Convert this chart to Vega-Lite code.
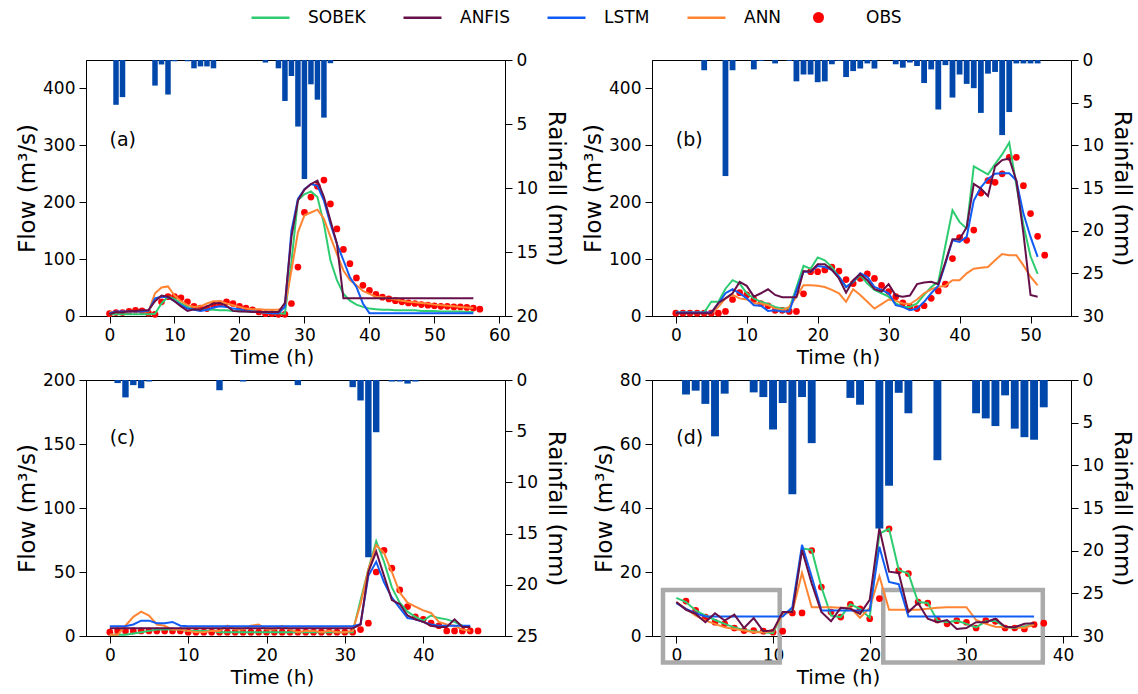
{
"$schema": "https://vega.github.io/schema/vega-lite/v6.json",
"padding": {"left": 16, "top": 9, "right": 2, "bottom": 2},
"datasets": {
"a": [
{"h":0,"S":3,"F":3,"L":5,"N":7,"O":4},
{"h":1,"S":3,"F":7,"L":8,"N":7,"O":6,"R":3.5},
{"h":2,"S":3,"F":6,"L":8,"N":7,"O":6,"R":2.9},
{"h":3,"S":3,"F":9,"L":8,"N":8,"O":8},
{"h":4,"S":3,"F":9,"L":8,"N":8,"O":10},
{"h":5,"S":3,"F":10,"L":8,"N":8,"O":9},
{"h":6,"S":3,"F":10,"L":9,"N":8,"O":5},
{"h":7,"S":4,"F":26,"L":31,"N":40,"O":3,"R":2.0},
{"h":8,"S":22,"F":36,"L":34,"N":50,"O":25,"R":0.35},
{"h":9,"S":34,"F":34,"L":33,"N":52,"O":34,"R":2.7},
{"h":10,"S":30,"F":26,"L":26,"N":36,"O":34,"R":0.1},
{"h":11,"S":22,"F":17,"L":19,"N":26,"O":32},
{"h":12,"S":16,"F":9,"L":13,"N":19,"O":25,"R":0.1},
{"h":13,"S":11,"F":12,"L":11,"N":16,"O":17,"R":0.65},
{"h":14,"S":11,"F":11,"L":9,"N":17,"O":14,"R":0.5},
{"h":15,"S":11,"F":17,"L":11,"N":22,"O":13,"R":0.5},
{"h":16,"S":11,"F":22,"L":15,"N":26,"O":19,"R":0.65},
{"h":17,"S":10,"F":23,"L":17,"N":26,"O":22},
{"h":18,"S":10,"F":18,"L":16,"N":22,"O":25},
{"h":19,"S":9,"F":9,"L":13,"N":19,"O":22},
{"h":20,"S":9,"F":8,"L":12,"N":16,"O":17},
{"h":21,"S":8,"F":8,"L":9,"N":13,"O":14},
{"h":22,"S":8,"F":7,"L":8,"N":12,"O":11},
{"h":23,"S":7,"F":7,"L":7,"N":12,"O":7},
{"h":24,"S":6,"F":7,"L":6,"N":11,"O":4,"R":0.2},
{"h":25,"S":5,"F":7,"L":5,"N":11,"O":4},
{"h":26,"S":5,"F":7,"L":5,"N":11,"O":3,"R":0.65},
{"h":27,"S":4,"F":23,"L":16,"N":16,"O":3,"R":3.2},
{"h":28,"S":95,"F":139,"L":150,"N":80,"O":22,"R":1.25},
{"h":29,"S":204,"F":203,"L":206,"N":147,"O":86,"R":5.2},
{"h":30,"S":214,"F":222,"L":223,"N":177,"O":182,"R":9.3},
{"h":31,"S":219,"F":232,"L":232,"N":182,"O":209,"R":1.9},
{"h":32,"S":209,"F":238,"L":229,"N":187,"O":228,"R":3.1},
{"h":33,"S":162,"F":209,"L":203,"N":171,"O":239,"R":4.5},
{"h":34,"S":98,"F":168,"L":162,"N":139,"O":197,"R":0.25},
{"h":35,"S":63,"F":127,"L":127,"N":109,"O":153},
{"h":36,"S":39,"F":31,"L":98,"N":80,"O":117},
{"h":37,"S":27,"F":31,"L":68,"N":63,"O":92},
{"h":38,"S":20,"F":31,"L":51,"N":54,"O":67},
{"h":39,"S":16,"F":31,"L":22,"N":44,"O":54},
{"h":40,"S":13,"F":31,"L":5,"N":39,"O":45},
{"h":41,"S":12,"F":31,"L":5,"N":34,"O":38},
{"h":42,"S":11,"F":31,"L":5,"N":33,"O":33},
{"h":43,"S":11,"F":31,"L":5,"N":31,"O":30},
{"h":44,"S":10,"F":31,"L":5,"N":29,"O":27},
{"h":45,"S":10,"F":31,"L":5,"N":27,"O":25},
{"h":46,"S":10,"F":31,"L":5,"N":25,"O":23},
{"h":47,"S":10,"F":31,"L":5,"N":24,"O":22},
{"h":48,"S":9,"F":31,"L":5,"N":23,"O":20},
{"h":49,"S":9,"F":31,"L":5,"N":22,"O":19},
{"h":50,"S":9,"F":31,"L":5,"N":20,"O":18},
{"h":51,"S":8,"F":31,"L":5,"N":19,"O":17},
{"h":52,"S":8,"F":31,"L":5,"N":18,"O":17},
{"h":53,"S":8,"F":31,"L":5,"N":17,"O":16},
{"h":54,"S":8,"F":31,"L":5,"N":16,"O":16},
{"h":55,"S":7,"F":31,"L":5,"N":15,"O":15},
{"h":56,"S":7,"F":31,"L":5,"N":14,"O":14},
{"h":57,"O":12}
],
"b": [
{"h":0,"S":6,"F":5,"L":6,"N":5,"O":5},
{"h":1,"S":6,"F":5,"L":6,"N":5,"O":5},
{"h":2,"S":6,"F":5,"L":6,"N":5,"O":5},
{"h":3,"S":6,"F":5,"L":6,"N":5,"O":5},
{"h":4,"S":6,"F":5,"L":6,"N":5,"O":5,"R":1.2},
{"h":5,"S":25,"F":5,"L":6,"N":5,"O":5},
{"h":6,"S":25,"F":23,"L":22,"N":16,"O":5},
{"h":7,"S":48,"F":31,"L":40,"N":31,"O":8,"R":13.6},
{"h":8,"S":63,"F":40,"L":47,"N":37,"O":29,"R":1.2},
{"h":9,"S":57,"F":60,"L":40,"N":31,"O":41},
{"h":10,"S":40,"F":53,"L":31,"N":29,"O":37},
{"h":11,"S":31,"F":34,"L":19,"N":22,"O":29,"R":1.1},
{"h":12,"S":25,"F":40,"L":18,"N":22,"O":22,"R":0.1},
{"h":13,"S":21,"F":47,"L":9,"N":19,"O":18},
{"h":14,"S":16,"F":37,"L":10,"N":13,"O":10,"R":0.4},
{"h":15,"S":13,"F":33,"L":8,"N":10,"O":10},
{"h":16,"S":13,"F":33,"L":8,"N":16,"O":8,"R":0.1},
{"h":17,"S":50,"F":33,"L":45,"N":34,"O":8,"R":2.5},
{"h":18,"S":88,"F":79,"L":78,"N":54,"O":39,"R":1.7},
{"h":19,"S":83,"F":78,"L":78,"N":54,"O":78,"R":1.7},
{"h":20,"S":103,"F":91,"L":88,"N":53,"O":78,"R":2.6},
{"h":21,"S":98,"F":91,"L":86,"N":51,"O":81,"R":2.5},
{"h":22,"S":86,"F":81,"L":81,"N":46,"O":86,"R":0.5},
{"h":23,"S":69,"F":66,"L":69,"N":40,"O":79,"R":0.1},
{"h":24,"S":51,"F":41,"L":51,"N":25,"O":64,"R":2.0},
{"h":25,"S":60,"F":63,"L":60,"N":47,"O":57,"R":1.3},
{"h":26,"S":72,"F":74,"L":75,"N":37,"O":66,"R":1.0},
{"h":27,"S":57,"F":63,"L":69,"N":25,"O":74,"R":0.4},
{"h":28,"S":46,"F":47,"L":51,"N":13,"O":66,"R":1.0},
{"h":29,"S":40,"F":43,"L":46,"N":21,"O":54},
{"h":30,"S":34,"F":56,"L":40,"N":29,"O":43},
{"h":31,"S":22,"F":36,"L":19,"N":27,"O":34,"R":0.5},
{"h":32,"S":16,"F":34,"L":16,"N":22,"O":23,"R":0.9},
{"h":33,"S":16,"F":36,"L":10,"N":21,"O":16,"R":0.3},
{"h":34,"S":22,"F":56,"L":13,"N":29,"O":13,"R":0.7},
{"h":35,"S":37,"F":59,"L":25,"N":40,"O":18,"R":2.7},
{"h":36,"S":51,"F":60,"L":40,"N":47,"O":31,"R":1.1},
{"h":37,"S":60,"F":56,"L":53,"N":51,"O":44,"R":5.8},
{"h":38,"S":124,"F":95,"L":92,"N":53,"O":56,"R":0.6},
{"h":39,"S":186,"F":135,"L":133,"N":63,"O":101,"R":4.4},
{"h":40,"S":165,"F":135,"L":130,"N":63,"O":138,"R":1.7},
{"h":41,"S":154,"F":156,"L":139,"N":75,"O":133,"R":2.8},
{"h":42,"S":263,"F":232,"L":203,"N":83,"O":151,"R":3.3},
{"h":43,"S":256,"F":224,"L":226,"N":85,"O":216,"R":6.2},
{"h":44,"S":249,"F":211,"L":241,"N":86,"O":238,"R":1.6},
{"h":45,"S":267,"F":263,"L":250,"N":98,"O":235,"R":1.4},
{"h":46,"S":284,"F":274,"L":251,"N":109,"O":250,"R":8.8},
{"h":47,"S":305,"F":277,"L":251,"N":107,"O":279,"R":6.1},
{"h":48,"S":230,"F":238,"L":238,"N":107,"O":279,"R":0.4},
{"h":49,"S":160,"F":145,"L":180,"N":89,"O":229,"R":0.4},
{"h":50,"S":105,"F":37,"L":139,"N":69,"O":180,"R":0.4},
{"h":51,"S":74,"F":34,"L":104,"N":54,"O":140,"R":0.4},
{"h":52,"O":107}
],
"c": [
{"h":0,"S":1,"F":6,"L":7.6,"N":1,"O":3},
{"h":1,"S":1,"F":6,"L":7.6,"N":1,"O":4,"R":0.3},
{"h":2,"S":1,"F":6,"L":7.6,"N":8,"O":4,"R":1.7},
{"h":3,"S":2,"F":6,"L":9,"N":15,"O":4,"R":0.5},
{"h":4,"S":3,"F":6,"L":12,"N":19,"O":4,"R":0.8},
{"h":5,"S":4,"F":6,"L":12,"N":16,"O":4,"R":0.15},
{"h":6,"S":5,"F":6,"L":10,"N":9,"O":4},
{"h":7,"S":5,"F":6,"L":10,"N":8,"O":4},
{"h":8,"S":5,"F":6,"L":11,"N":5,"O":4},
{"h":9,"S":5,"F":6,"L":8,"N":5,"O":4},
{"h":10,"S":4,"F":6,"L":7.6,"N":4,"O":3},
{"h":11,"S":4,"F":6,"L":7.6,"N":3,"O":3},
{"h":12,"S":4,"F":6,"L":7.6,"N":3,"O":3},
{"h":13,"S":4,"F":6,"L":7.6,"N":4,"O":3},
{"h":14,"S":3,"F":6,"L":7.6,"N":4,"O":3,"R":1.0},
{"h":15,"S":3,"F":6,"L":7.6,"N":8,"O":3},
{"h":16,"S":3,"F":6,"L":7.6,"N":5,"O":3},
{"h":17,"S":3,"F":6,"L":7.6,"N":5,"O":3,"R":0.15},
{"h":18,"S":3,"F":6,"L":7.6,"N":8,"O":3},
{"h":19,"S":3,"F":6,"L":7.6,"N":9,"O":3},
{"h":20,"S":3,"F":6,"L":7.6,"N":5,"O":3},
{"h":21,"S":3,"F":6,"L":7.6,"N":5,"O":3},
{"h":22,"S":3,"F":6,"L":7.6,"N":8,"O":3},
{"h":23,"S":3,"F":6,"L":7.6,"N":5,"O":3},
{"h":24,"S":3,"F":6,"L":7.6,"N":3,"O":3,"R":0.5},
{"h":25,"S":3,"F":6,"L":7.6,"N":4,"O":3},
{"h":26,"S":3,"F":6,"L":7.6,"N":4,"O":3},
{"h":27,"S":3,"F":6,"L":7.6,"N":3,"O":3},
{"h":28,"S":3,"F":6,"L":7.6,"N":4,"O":3},
{"h":29,"S":3,"F":6,"L":7.6,"N":3,"O":3},
{"h":30,"S":3,"F":6,"L":7.6,"N":3,"O":3},
{"h":31,"S":3,"F":6,"L":7.6,"N":4,"O":3,"R":0.7},
{"h":32,"S":28,"F":9,"L":9.2,"N":25,"O":5,"R":2.0},
{"h":33,"S":52,"F":50,"L":47,"N":52,"O":10,"R":17.3},
{"h":34,"S":74,"F":66,"L":58,"N":71,"O":50,"R":5.1},
{"h":35,"S":58,"F":47,"L":42,"N":65,"O":67},
{"h":36,"S":38,"F":28,"L":30,"N":50,"O":53,"R":0.15},
{"h":37,"S":26,"F":25,"L":22,"N":34,"O":36,"R":0.15},
{"h":38,"S":19,"F":16,"L":14,"N":26,"O":23,"R":0.35},
{"h":39,"S":15,"F":13,"L":13,"N":23,"O":15,"R":0.15},
{"h":40,"S":12,"F":11,"L":11,"N":20,"O":13},
{"h":41,"S":16,"F":8,"L":9,"N":18,"O":10},
{"h":42,"S":14,"F":7,"L":8,"N":11,"O":8},
{"h":43,"S":13,"F":7,"L":8,"N":9,"O":4},
{"h":44,"S":11,"F":13,"L":8,"N":8,"O":4},
{"h":45,"S":8,"F":7,"L":8,"N":5,"O":4},
{"h":46,"S":7,"F":7,"L":8,"N":4,"O":4},
{"h":47,"O":4}
],
"d": [
{"h":0,"S":11.9,"F":10.6,"L":10.3,"N":10.6},
{"h":1,"S":10.6,"F":8.2,"L":8.5,"N":8.5,"O":10.9,"R":1.7},
{"h":2,"S":8,"F":6.9,"L":7.1,"N":6.4,"O":8,"R":1.25},
{"h":3,"S":6.4,"F":4.3,"L":6.1,"N":4.8,"O":5.9,"R":2.8},
{"h":4,"S":5,"F":7.1,"L":6.1,"N":3.8,"O":4.3,"R":6.6},
{"h":5,"S":3.8,"F":4.8,"L":6.1,"N":2.7,"O":3.8,"R":1.6},
{"h":6,"S":2.7,"F":6.7,"L":6.1,"N":2.2,"O":2.5},
{"h":7,"S":1.9,"F":2.5,"L":6.1,"N":1.7,"O":1.7},
{"h":8,"S":1.5,"F":5.6,"L":6.1,"N":1.2,"O":1.7,"R":1.45},
{"h":9,"S":1.2,"F":1.5,"L":6.1,"N":1.2,"O":1.5,"R":2.0},
{"h":10,"S":0.9,"F":1.7,"L":6.1,"N":1.5,"O":1.2,"R":5.8},
{"h":11,"S":7.2,"F":7.5,"L":6.1,"N":6.9,"O":1.5,"R":2.7},
{"h":12,"S":8,"F":7.5,"L":9,"N":7.5,"O":7.2,"R":13.4},
{"h":13,"S":27.4,"F":26.9,"L":28.5,"N":19.7,"O":7.2,"R":2.0},
{"h":14,"S":26.9,"F":16.4,"L":18.5,"N":9,"O":26.7,"R":7.4},
{"h":15,"S":15.3,"F":7.5,"L":8,"N":9,"O":15.3},
{"h":16,"S":6.4,"F":4.6,"L":8,"N":9,"O":7.5},
{"h":17,"S":5.9,"F":8.8,"L":8,"N":8.8,"O":5.9},
{"h":18,"S":9.9,"F":8.5,"L":8,"N":8.8,"O":9.9,"R":2.1},
{"h":19,"S":8.5,"F":6.9,"L":8,"N":5.7,"O":8.5,"R":2.9},
{"h":20,"S":5.7,"F":11.3,"L":8,"N":8.8,"O":5.4},
{"h":21,"S":32,"F":33.7,"L":27.9,"N":18.7,"O":11.7,"R":17.4},
{"h":22,"S":33.5,"F":20.1,"L":16.9,"N":8.2,"O":33.5,"R":12.4},
{"h":23,"S":20.6,"F":19.7,"L":16.2,"N":8.2,"O":20.4,"R":1.5},
{"h":24,"S":19.5,"F":7.5,"L":6.1,"N":8.2,"O":19.5,"R":3.9},
{"h":25,"S":10.6,"F":10.3,"L":6.1,"N":8.2,"O":10.6},
{"h":26,"S":10.3,"F":5.4,"L":6.1,"N":8.5,"O":10.3},
{"h":27,"S":4.8,"F":4.3,"L":6.1,"N":8.8,"O":5,"R":9.4},
{"h":28,"S":4.3,"F":5,"L":6.1,"N":9,"O":3.8},
{"h":29,"S":4.8,"F":2.2,"L":6.1,"N":9,"O":4.8},
{"h":30,"S":3.8,"F":2.5,"L":6.1,"N":9,"O":4.3},
{"h":31,"S":2.7,"F":4.3,"L":6.1,"N":5,"O":2.5,"R":3.9},
{"h":32,"S":4.6,"F":4.3,"L":6.1,"N":3.8,"O":4.8,"R":4.5},
{"h":33,"S":4.8,"F":5.4,"L":6.1,"N":2.9,"O":4.6,"R":5.4},
{"h":34,"S":2.7,"F":2.9,"L":6.1,"N":2.7,"O":2.5,"R":1.8},
{"h":35,"S":2.5,"F":2.7,"L":6.1,"N":2.7,"O":2.5,"R":5.7},
{"h":36,"S":2.9,"F":3.8,"L":6.1,"N":2.5,"O":2.2,"R":6.7},
{"h":37,"S":3.8,"F":4,"L":6.1,"N":3.6,"O":3.6,"R":7.0},
{"h":38,"O":4,"R":3.2}
]
},
"columns": 2,
"spacing": {"row": 64, "column": 147},
"bounds": "flush",
"concat": [
{
"width": 419, "height": 256,
"data": {"name": "a"},
"layer": [
{"layer": [
{"mark": {"type": "point", "filled": true, "size": 45, "opacity": 1},
 "encoding": {"x": {"field": "h", "type": "quantitative", "scale": {"domain": [-2.85, 60.1], "nice": false, "zero": false}, "axis": {"title": "Time (h)", "values": [0,10,20,30,40,50,60]}},
  "y": {"field": "O", "type": "quantitative", "scale": {"domain": [0, 450], "nice": false}, "axis": {"title": "Flow (m³/s)", "values": [0,100,200,300,400]}},
  "fill": {"datum": "OBS", "type": "nominal", "scale": {"domain": ["OBS"], "range": ["#ff0000"]},
   "legend": {"orient": "none", "legendX": 724, "legendY": -51, "direction": "horizontal", "title": null, "labelFontSize": 17, "labelFont": "DejaVu Sans", "labelColor": "#000", "symbolType": "circle", "symbolSize": 121, "symbolStrokeWidth": 0, "labelOffset": 39}}}},
{"mark": {"type": "line", "strokeWidth": 2},
 "encoding": {"x": {"field": "h", "type": "quantitative", "scale": {"domain": [-2.85, 60.1], "nice": false, "zero": false}},
  "y": {"field": "S", "type": "quantitative", "scale": {"domain": [0, 450], "nice": false}},
  "color": {"datum": "SOBEK", "type": "nominal", "scale": {"domain": ["SOBEK","ANFIS","LSTM","ANN"], "range": ["#2ecc71","#66104a","#105cf5","#ff8533"]},
   "legend": {"orient": "none", "legendX": 176, "legendY": -51, "direction": "horizontal", "title": null, "labelFontSize": 17, "labelFont": "DejaVu Sans", "labelColor": "#000", "symbolType": "M-3.8,0L3.8,0", "symbolSize": 100, "symbolStrokeWidth": 2.5, "labelOffset": 29, "columnPadding": 32}}}},
{"mark": {"type": "line", "strokeWidth": 2},
 "encoding": {"x": {"field": "h", "type": "quantitative", "scale": {"domain": [-2.85, 60.1], "nice": false, "zero": false}},
  "y": {"field": "N", "type": "quantitative", "scale": {"domain": [0, 450], "nice": false}},
  "color": {"datum": "ANN", "type": "nominal"}}},
{"mark": {"type": "line", "strokeWidth": 2},
 "encoding": {"x": {"field": "h", "type": "quantitative", "scale": {"domain": [-2.85, 60.1], "nice": false, "zero": false}},
  "y": {"field": "L", "type": "quantitative", "scale": {"domain": [0, 450], "nice": false}},
  "color": {"datum": "LSTM", "type": "nominal"}}},
{"mark": {"type": "line", "strokeWidth": 2},
 "encoding": {"x": {"field": "h", "type": "quantitative", "scale": {"domain": [-2.85, 60.1], "nice": false, "zero": false}},
  "y": {"field": "F", "type": "quantitative", "scale": {"domain": [0, 450], "nice": false}},
  "color": {"datum": "ANFIS", "type": "nominal"}}},
{"data": {"values": [{"h": 0, "f": 310, "t": "(a)"}]},
 "mark": {"type": "text", "align": "left", "baseline": "middle", "fontSize": 19, "font": "DejaVu Sans", "color": "#000"},
 "encoding": {"x": {"field": "h", "type": "quantitative", "scale": {"domain": [-2.85, 60.1], "nice": false, "zero": false}},
  "y": {"field": "f", "type": "quantitative", "scale": {"domain": [0, 450], "nice": false}},
  "text": {"field": "t"}}}
]},
{"mark": {"type": "bar", "size": 5.5, "color": "#0047ab"},
 "encoding": {"x": {"field": "h", "type": "quantitative", "scale": {"domain": [-2.85, 60.1], "nice": false, "zero": false}},
  "y": {"field": "R", "type": "quantitative", "stack": null, "scale": {"domain": [0, 20], "nice": false, "reverse": true}, "axis": {"orient": "right", "title": "Rainfall (mm)", "values": [0,5,10,15,20]}}}}
],
"resolve": {"scale": {"y": "independent"}}
},
{
"width": 419, "height": 256,
"data": {"name": "b"},
"layer": [
{"layer": [
{"mark": {"type": "point", "filled": true, "size": 45, "opacity": 1},
 "encoding": {"x": {"field": "h", "type": "quantitative", "scale": {"domain": [-2.65, 55], "nice": false, "zero": false}, "axis": {"title": "Time (h)", "values": [0,10,20,30,40,50]}},
  "y": {"field": "O", "type": "quantitative", "scale": {"domain": [0, 450], "nice": false}, "axis": {"title": "Flow (m³/s)", "values": [0,100,200,300,400]}},
  "fill": {"datum": "OBS", "type": "nominal"}}},
{"mark": {"type": "line", "strokeWidth": 2},
 "encoding": {"x": {"field": "h", "type": "quantitative", "scale": {"domain": [-2.65, 55], "nice": false, "zero": false}},
  "y": {"field": "S", "type": "quantitative", "scale": {"domain": [0, 450], "nice": false}},
  "color": {"datum": "SOBEK", "type": "nominal"}}},
{"mark": {"type": "line", "strokeWidth": 2},
 "encoding": {"x": {"field": "h", "type": "quantitative", "scale": {"domain": [-2.65, 55], "nice": false, "zero": false}},
  "y": {"field": "N", "type": "quantitative", "scale": {"domain": [0, 450], "nice": false}},
  "color": {"datum": "ANN", "type": "nominal"}}},
{"mark": {"type": "line", "strokeWidth": 2},
 "encoding": {"x": {"field": "h", "type": "quantitative", "scale": {"domain": [-2.65, 55], "nice": false, "zero": false}},
  "y": {"field": "L", "type": "quantitative", "scale": {"domain": [0, 450], "nice": false}},
  "color": {"datum": "LSTM", "type": "nominal"}}},
{"mark": {"type": "line", "strokeWidth": 2},
 "encoding": {"x": {"field": "h", "type": "quantitative", "scale": {"domain": [-2.65, 55], "nice": false, "zero": false}},
  "y": {"field": "F", "type": "quantitative", "scale": {"domain": [0, 450], "nice": false}},
  "color": {"datum": "ANFIS", "type": "nominal"}}},
{"data": {"values": [{"h": 0, "f": 310, "t": "(b)"}]},
 "mark": {"type": "text", "align": "left", "baseline": "middle", "fontSize": 19, "font": "DejaVu Sans", "color": "#000"},
 "encoding": {"x": {"field": "h", "type": "quantitative", "scale": {"domain": [-2.65, 55], "nice": false, "zero": false}},
  "y": {"field": "f", "type": "quantitative", "scale": {"domain": [0, 450], "nice": false}},
  "text": {"field": "t"}}}
]},
{"mark": {"type": "bar", "size": 5.8, "color": "#0047ab"},
 "encoding": {"x": {"field": "h", "type": "quantitative", "scale": {"domain": [-2.65, 55], "nice": false, "zero": false}},
  "y": {"field": "R", "type": "quantitative", "stack": null, "scale": {"domain": [0, 30], "nice": false, "reverse": true}, "axis": {"orient": "right", "title": "Rainfall (mm)", "values": [0,5,10,15,20,25,30]}}}}
],
"resolve": {"scale": {"y": "independent"}}
},
{
"width": 419, "height": 256,
"data": {"name": "c"},
"layer": [
{"layer": [
{"mark": {"type": "point", "filled": true, "size": 45, "opacity": 1},
 "encoding": {"x": {"field": "h", "type": "quantitative", "scale": {"domain": [-2.4, 49.8], "nice": false, "zero": false}, "axis": {"title": "Time (h)", "values": [0,10,20,30,40]}},
  "y": {"field": "O", "type": "quantitative", "scale": {"domain": [0, 200], "nice": false}, "axis": {"title": "Flow (m³/s)", "values": [0,50,100,150,200]}},
  "fill": {"datum": "OBS", "type": "nominal"}}},
{"mark": {"type": "line", "strokeWidth": 2},
 "encoding": {"x": {"field": "h", "type": "quantitative", "scale": {"domain": [-2.4, 49.8], "nice": false, "zero": false}},
  "y": {"field": "S", "type": "quantitative", "scale": {"domain": [0, 200], "nice": false}},
  "color": {"datum": "SOBEK", "type": "nominal"}}},
{"mark": {"type": "line", "strokeWidth": 2},
 "encoding": {"x": {"field": "h", "type": "quantitative", "scale": {"domain": [-2.4, 49.8], "nice": false, "zero": false}},
  "y": {"field": "N", "type": "quantitative", "scale": {"domain": [0, 200], "nice": false}},
  "color": {"datum": "ANN", "type": "nominal"}}},
{"mark": {"type": "line", "strokeWidth": 2},
 "encoding": {"x": {"field": "h", "type": "quantitative", "scale": {"domain": [-2.4, 49.8], "nice": false, "zero": false}},
  "y": {"field": "L", "type": "quantitative", "scale": {"domain": [0, 200], "nice": false}},
  "color": {"datum": "LSTM", "type": "nominal"}}},
{"mark": {"type": "line", "strokeWidth": 2},
 "encoding": {"x": {"field": "h", "type": "quantitative", "scale": {"domain": [-2.4, 49.8], "nice": false, "zero": false}},
  "y": {"field": "F", "type": "quantitative", "scale": {"domain": [0, 200], "nice": false}},
  "color": {"datum": "ANFIS", "type": "nominal"}}},
{"data": {"values": [{"h": 0, "f": 155, "t": "(c)"}]},
 "mark": {"type": "text", "align": "left", "baseline": "middle", "fontSize": 19, "font": "DejaVu Sans", "color": "#000"},
 "encoding": {"x": {"field": "h", "type": "quantitative", "scale": {"domain": [-2.4, 49.8], "nice": false, "zero": false}},
  "y": {"field": "f", "type": "quantitative", "scale": {"domain": [0, 200], "nice": false}},
  "text": {"field": "t"}}}
]},
{"mark": {"type": "bar", "size": 6.4, "color": "#0047ab"},
 "encoding": {"x": {"field": "h", "type": "quantitative", "scale": {"domain": [-2.4, 49.8], "nice": false, "zero": false}},
  "y": {"field": "R", "type": "quantitative", "stack": null, "scale": {"domain": [0, 25], "nice": false, "reverse": true}, "axis": {"orient": "right", "title": "Rainfall (mm)", "values": [0,5,10,15,20,25]}}}}
],
"resolve": {"scale": {"y": "independent"}}
},
{
"width": 419, "height": 256,
"data": {"name": "d"},
"layer": [
{"layer": [
{"data": {"values": [{"x1": -1.38, "x2": 10.69, "y1": -8.3, "y2": 14.4}, {"x1": 21.4, "x2": 37.9, "y1": -8.3, "y2": 14.4}]},
 "mark": {"type": "rect", "filled": false, "stroke": "#aaaaaa", "strokeWidth": 4.5},
 "encoding": {"x": {"field": "x1", "type": "quantitative", "scale": {"domain": [-2.0, 40.3], "nice": false, "zero": false}}, "x2": {"field": "x2"},
  "y": {"field": "y1", "type": "quantitative", "scale": {"domain": [0, 80], "nice": false}}, "y2": {"field": "y2"}}},
{"mark": {"type": "point", "filled": true, "size": 45, "opacity": 1},
 "encoding": {"x": {"field": "h", "type": "quantitative", "scale": {"domain": [-2.0, 40.3], "nice": false, "zero": false}, "axis": {"title": "Time (h)", "values": [0,10,20,30,40]}},
  "y": {"field": "O", "type": "quantitative", "scale": {"domain": [0, 80], "nice": false}, "axis": {"title": "Flow (m³/s)", "values": [0,20,40,60,80]}},
  "fill": {"datum": "OBS", "type": "nominal"}}},
{"mark": {"type": "line", "strokeWidth": 2},
 "encoding": {"x": {"field": "h", "type": "quantitative", "scale": {"domain": [-2.0, 40.3], "nice": false, "zero": false}},
  "y": {"field": "S", "type": "quantitative", "scale": {"domain": [0, 80], "nice": false}},
  "color": {"datum": "SOBEK", "type": "nominal"}}},
{"mark": {"type": "line", "strokeWidth": 2},
 "encoding": {"x": {"field": "h", "type": "quantitative", "scale": {"domain": [-2.0, 40.3], "nice": false, "zero": false}},
  "y": {"field": "N", "type": "quantitative", "scale": {"domain": [0, 80], "nice": false}},
  "color": {"datum": "ANN", "type": "nominal"}}},
{"mark": {"type": "line", "strokeWidth": 2},
 "encoding": {"x": {"field": "h", "type": "quantitative", "scale": {"domain": [-2.0, 40.3], "nice": false, "zero": false}},
  "y": {"field": "L", "type": "quantitative", "scale": {"domain": [0, 80], "nice": false}},
  "color": {"datum": "LSTM", "type": "nominal"}}},
{"mark": {"type": "line", "strokeWidth": 2},
 "encoding": {"x": {"field": "h", "type": "quantitative", "scale": {"domain": [-2.0, 40.3], "nice": false, "zero": false}},
  "y": {"field": "F", "type": "quantitative", "scale": {"domain": [0, 80], "nice": false}},
  "color": {"datum": "ANFIS", "type": "nominal"}}},
{"data": {"values": [{"h": 0, "f": 62, "t": "(d)"}]},
 "mark": {"type": "text", "align": "left", "baseline": "middle", "fontSize": 19, "font": "DejaVu Sans", "color": "#000"},
 "encoding": {"x": {"field": "h", "type": "quantitative", "scale": {"domain": [-2.0, 40.3], "nice": false, "zero": false}},
  "y": {"field": "f", "type": "quantitative", "scale": {"domain": [0, 80], "nice": false}},
  "text": {"field": "t"}}}
]},
{"mark": {"type": "bar", "size": 7.9, "color": "#0047ab"},
 "encoding": {"x": {"field": "h", "type": "quantitative", "scale": {"domain": [-2.0, 40.3], "nice": false, "zero": false}},
  "y": {"field": "R", "type": "quantitative", "stack": null, "scale": {"domain": [0, 30], "nice": false, "reverse": true}, "axis": {"orient": "right", "title": "Rainfall (mm)", "values": [0,5,10,15,20,25,30]}}}}
],
"resolve": {"scale": {"y": "independent"}}
}
],
"config": {
 "font": "DejaVu Sans",
 "view": {"stroke": "#000", "strokeWidth": 1},
 "axis": {"grid": false, "domainColor": "#000", "tickColor": "#000", "labelColor": "#000", "titleColor": "#000", "labelFont": "DejaVu Sans", "titleFont": "DejaVu Sans", "labelFontSize": 17, "titleFontSize": 19, "titleFontWeight": "normal", "tickSize": 7, "labelPadding": 4, "domainWidth": 1, "tickWidth": 1},
 "axisX": {"titlePadding": 4, "titleFontSize": 20, "titleX": 186},
 "axisLeft": {"titlePadding": 3, "titleFontSize": 23},
 "axisRight": {"titlePadding": 6, "titleFontSize": 23}
}
}
